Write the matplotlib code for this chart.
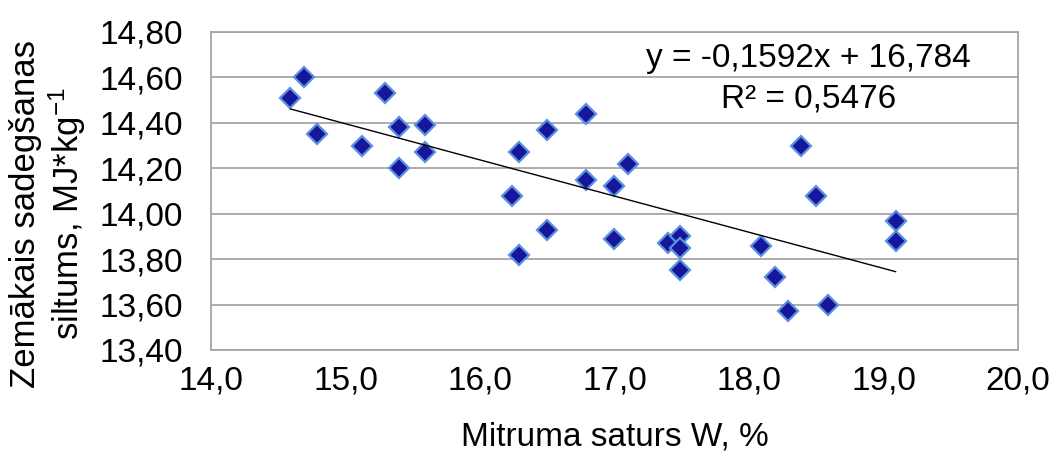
import numpy as np
import matplotlib
matplotlib.use("Agg")
import matplotlib.pyplot as plt
from matplotlib.ticker import FuncFormatter

# mitruma saturs W, %
moisture = [14.59, 14.69, 14.79, 15.12, 15.29, 15.40, 15.40, 15.59, 15.59,
            16.24, 16.29, 16.29, 16.50, 16.50, 16.79, 16.79, 17.00, 17.00,
            17.10, 17.40, 17.49, 17.49, 17.49, 18.09, 18.19, 18.29, 18.39,
            18.50, 18.59, 19.09, 19.09]
# zemākais sadegšanas siltums, MJ/kg
heat = [14.51, 14.60, 14.35, 14.30, 14.53, 14.38, 14.20, 14.39, 14.27,
        14.08, 14.27, 13.82, 14.37, 13.93, 14.44, 14.15, 14.12, 13.89,
        14.22, 13.87, 13.90, 13.85, 13.75, 13.86, 13.72, 13.57, 14.30,
        14.08, 13.60, 13.97, 13.88]

slope = -0.1592
intercept = 16.784
r2 = 0.5476

xticks = [14.0, 15.0, 16.0, 17.0, 18.0, 19.0, 20.0]
yticks = [13.40, 13.60, 13.80, 14.00, 14.20, 14.40, 14.60, 14.80]

plt.rcParams['font.family'] = ['Liberation Sans', 'DejaVu Sans']
plt.rcParams['mathtext.fontset'] = 'custom'
plt.rcParams['mathtext.rm'] = 'Liberation Sans'
plt.rcParams['mathtext.default'] = 'regular'

fs = 24
grid_col = '#a6a6a6'

fig = plt.figure(figsize=(10.54, 4.53), dpi=100)
ax = fig.add_axes([0.2002, 0.2274, 0.7656, 0.7020])

ax.set_xlim(14.0, 20.0)
ax.set_ylim(13.40, 14.80)
ax.set_xticks(xticks)
ax.set_yticks(yticks)
ax.xaxis.set_major_formatter(FuncFormatter(lambda v, p: f"{v:.1f}".replace('.', ',')))
ax.yaxis.set_major_formatter(FuncFormatter(lambda v, p: f"{v:.2f}".replace('.', ',')))
ax.tick_params(axis='both', length=0, labelsize=fs)
ax.tick_params(axis='y', pad=20)
ax.tick_params(axis='x', pad=11)

ax.grid(axis='y', color=grid_col, linewidth=1.3)
ax.set_axisbelow(True)
for s in ax.spines.values():
    s.set_color(grid_col)
    s.set_linewidth(1.3)

# punkti
ax.plot(moisture, heat, linestyle='none', marker='D', markersize=10,
        markerfacecolor='#16169a', markeredgecolor='#5b8fe0',
        markeredgewidth=1.6, zorder=3)

# lineārā tendence
xt = np.array([min(moisture), max(moisture)])
ax.plot(xt, slope * xt + intercept, color='black', linewidth=1.0, zorder=4)

ax.text(18.44, 14.682, f"y = {slope:.4f}x + {intercept:.3f}".replace('.', ','),
        ha='center', va='center', fontsize=fs)
ax.text(18.44, 14.507, f"R² = {r2:.4f}".replace('.', ','),
        ha='center', va='center', fontsize=fs)

ax.set_xlabel("Mitruma saturs W, %", fontsize=fs, labelpad=18)
ax.set_ylabel("Zemākais sadegšanas\nsiltums, MJ*kg$^{-1}$", fontsize=fs + 1,
              linespacing=1.15)
ax.yaxis.label.set_va('center')
ax.yaxis.set_label_coords(-0.201, 0.428)

fig.savefig("out.png", dpi=100)
